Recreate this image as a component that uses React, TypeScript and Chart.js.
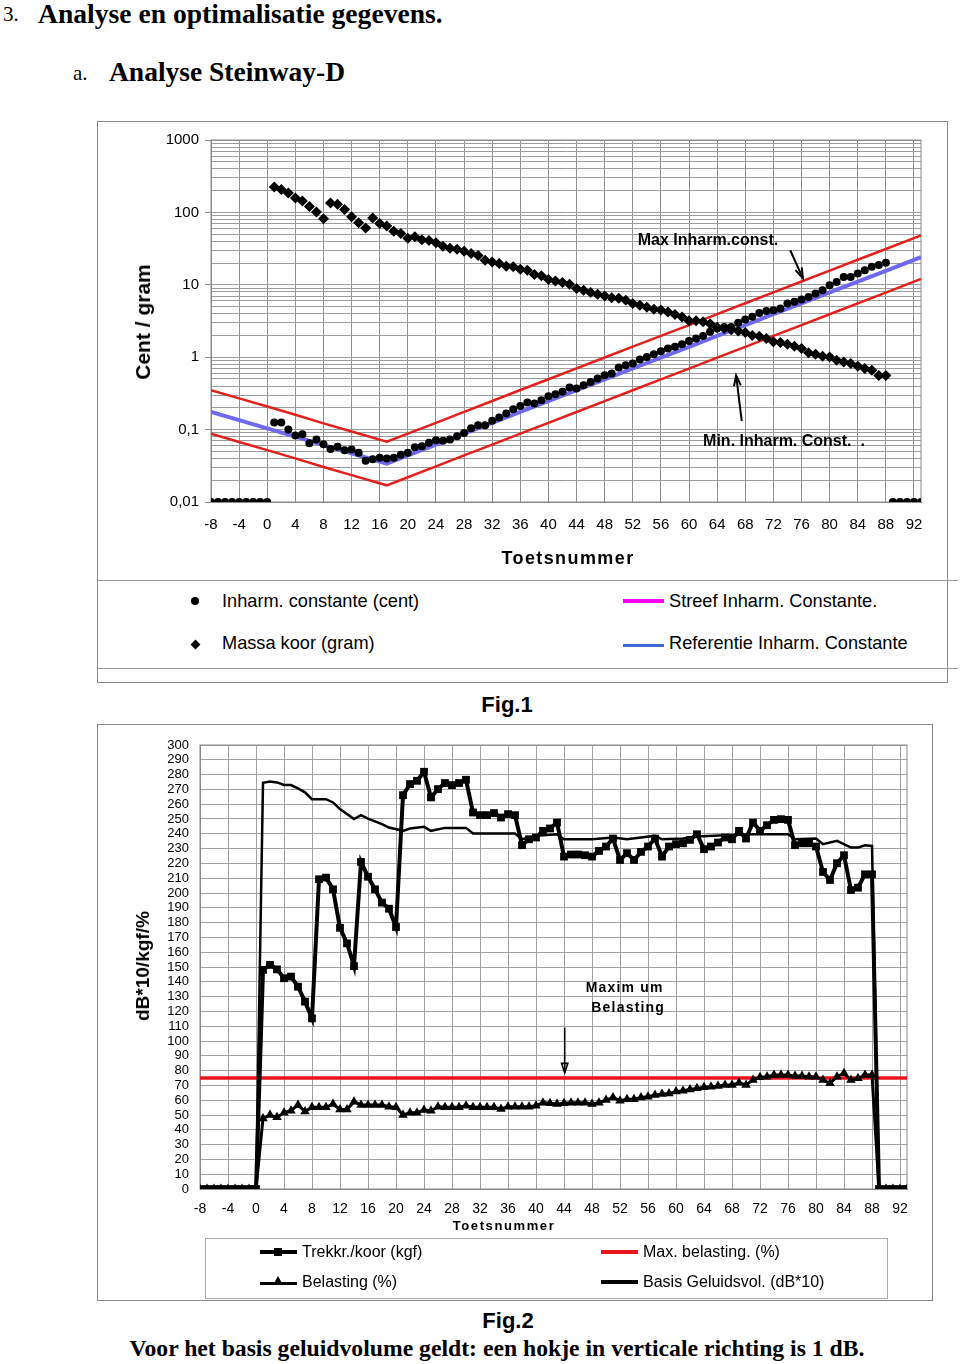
import React, { useEffect, useRef } from 'react';
import { Chart, registerables } from 'chart.js';

Chart.register(...registerables);

const SANS = '"Liberation Sans", Arial, Helvetica, sans-serif';
const SERIF = '"Liberation Serif", "Times New Roman", Times, serif';

// ---------------- Fig. 1 data ----------------
// key numbers -8 .. 93
const toetsnummers: number[] = Array.from({ length: 102 }, (_, i) => i - 8);
const xTickValues = [-8, -4, 0, 4, 8, 12, 16, 20, 24, 28, 32, 36, 40, 44, 48, 52, 56, 60, 64, 68, 72, 76, 80, 84, 88, 92];
const fig1YTickLabels = ['0,01', '0,1', '1', '10', '100', '1000'];

// Inharmonicity constant (cent) for keys -8 .. 93 (0,01 = empty keys)
const inharmConstante = [
  0.01, 0.01, 0.01, 0.01, 0.01, 0.01, 0.01, 0.01, 0.01,
  0.125, 0.125, 0.100, 0.083, 0.086, 0.065, 0.073, 0.063, 0.054, 0.058,
  0.052, 0.053, 0.048, 0.037, 0.039, 0.041, 0.040, 0.041, 0.045, 0.048,
  0.057, 0.059, 0.066, 0.071, 0.070, 0.073, 0.081, 0.090, 0.104, 0.115,
  0.115, 0.132, 0.147, 0.167, 0.191, 0.211, 0.237, 0.229, 0.255, 0.289,
  0.308, 0.332, 0.381, 0.370, 0.41, 0.456, 0.508, 0.564, 0.595, 0.721,
  0.775, 0.819, 0.929, 1.01, 1.10, 1.21, 1.32, 1.39, 1.51, 1.68,
  1.81, 1.97, 2.24, 2.49, 2.62, 2.62, 2.98, 3.32, 3.61, 4.09,
  4.36, 4.46, 4.71, 5.52, 5.81, 6.27, 6.81, 7.58, 8.42, 9.87,
  10.96, 12.85, 12.85, 14.3, 15.9, 17.7, 18.7, 20.1,
  0.01, 0.01, 0.01, 0.01, 0.01,
];

// String mass (gram) for keys 1 .. 88
const massaKoorStart = 1;
const massaKoor = [
  225, 207, 186, 158, 144, 121, 101, 82, 135, 130,
  110, 87, 72, 61, 84, 70, 65, 55, 51, 44,
  46, 42, 41, 38, 34, 32, 31, 29, 27, 25.4,
  21.9, 20.7, 19.7, 18.1, 17.7, 16.4, 15.9, 13.9, 13.3, 11.8,
  11.3, 10.8, 10.2, 8.9, 8.4, 7.8, 7.4, 7.0, 6.6, 6.5,
  6.1, 5.5, 5.2, 4.9, 4.6, 4.5, 4.2, 3.9, 3.6, 3.2,
  3.2, 3.1, 2.9, 2.6, 2.5, 2.4, 2.3, 2.2, 2.0, 1.95,
  1.81, 1.63, 1.60, 1.51, 1.42, 1.32, 1.15, 1.10, 1.03, 1.01,
  0.91, 0.86, 0.82, 0.75, 0.70, 0.66, 0.56, 0.56,
];

// Reference / limit lines (read at key numbers)
const refKeys = [-8, -4, 0, 4, 8, 12, 17, 20, 24, 28, 32, 36, 40, 44, 48, 52, 56, 60, 64, 68, 72, 76, 80, 84, 88, 92, 93];
const referentieInharm = [0.175, 0.135, 0.104, 0.080, 0.061, 0.047, 0.034, 0.044, 0.062, 0.088, 0.124, 0.176, 0.248, 0.350, 0.495, 0.699, 0.987, 1.39, 1.97, 2.78, 3.93, 5.55, 7.84, 11.1, 15.6, 22.1, 24.1];
const maxInharm = [0.35, 0.27, 0.208, 0.16, 0.122, 0.094, 0.068, 0.088, 0.124, 0.176, 0.248, 0.352, 0.496, 0.70, 0.99, 1.40, 1.97, 2.78, 3.94, 5.56, 7.86, 11.1, 15.7, 22.2, 31.2, 44.2, 48.2];
const minInharm = [0.0875, 0.0675, 0.052, 0.040, 0.0305, 0.0235, 0.017, 0.022, 0.031, 0.044, 0.062, 0.088, 0.124, 0.175, 0.248, 0.35, 0.494, 0.695, 0.985, 1.39, 1.97, 2.78, 3.92, 5.55, 7.8, 11.05, 12.05];

// ---------------- Fig. 2 data ----------------
// Trekkracht per koor (kgf) for keys -8 .. 93
const trekkracht = [
  0, 0, 0, 0, 0, 0, 0, 0, 0,
  148, 151.4, 148.4, 142.4, 143.5, 136.7, 126.6, 115.3, 209.3, 210.4,
  202.5, 176.5, 166, 150.6, 221, 211, 202.5, 193.5, 189.4, 177,
  266.1, 273.6, 275.8, 281.9, 264.6, 270.2, 274.3, 272.9, 274.3, 276.5,
  254.4, 252.6, 252.6, 254, 251, 253.3, 252.6, 232.3, 236.3, 237.5,
  242, 243.6, 247.6, 224.6, 226, 226, 225.5, 224.6, 228.4, 231.4,
  236.8, 222.3, 226.9, 222.3, 227.8, 231.4, 236.8, 224.6, 231.4, 233,
  233.6, 235.9, 239.7, 229.6, 231.4, 234.1, 237.5, 236.3, 242, 236.8,
  247.6, 242, 245.8, 249.4, 249.9, 249.4, 232.3, 233.6, 233.6, 231.4,
  214.2, 208.8, 220.1, 225.5, 202, 203.6, 212.6, 212.6,
  0, 0, 0, 0, 0,
];
// Belasting (%) for keys -8 .. 93
const belasting = [
  0, 0, 0, 0, 0, 0, 0, 0, 0,
  47.7, 50, 48.4, 51.6, 52.9, 56.8, 52.3, 55.2, 55.2, 55.2,
  57.4, 53.8, 53.8, 59, 56.8, 56.8, 56.8, 56.8, 55.6, 55.2,
  50, 51.6, 51.6, 53.4, 52.9, 55.6, 55.2, 55.2, 55.2, 56.3,
  55.2, 55.2, 55.2, 55.2, 54.1, 55.6, 55.6, 55.6, 55.6, 56.3,
  58.3, 57.9, 57.4, 57.9, 58.3, 58.3, 58.3, 57.4, 58.3, 60.1,
  61.9, 59.7, 60.6, 60.6, 61.9, 62.4, 63.5, 64.2, 64.6, 65.8,
  66.4, 67.3, 68, 68.7, 69.1, 69.6, 70.3, 70.3, 71.8, 70.3,
  73.6, 75.5, 75.9, 77, 77, 77, 76.4, 76.4, 75.9, 75.9,
  73.6, 71.4, 75.9, 78.2, 73.6, 74.8, 77, 77,
  0, 0, 0, 0, 0,
];
// Basis geluidsvolume (dB*10), read at breakpoints
const basisKeys = [-8, 0, 1, 2, 3, 4, 5, 6, 7, 8, 10, 11, 12, 14, 15, 16, 18, 19, 21, 22, 24, 25, 27, 30, 31, 37, 38, 40, 43, 44, 48, 51, 53, 55, 57, 58, 61, 63, 67, 71, 76, 77, 80, 81, 83, 85, 86, 87, 88, 89, 93];
const basisGeluid = [0, 0, 274.5, 275.4, 274.7, 273, 272.9, 270.7, 268, 263.4, 263.4, 261.2, 256.7, 250, 252.6, 250.3, 246.5, 244.2, 242, 243.6, 244.7, 242, 244, 244, 240.2, 240.2, 236.3, 238.6, 239.7, 236.3, 236.3, 237.5, 236.3, 237.5, 238.6, 236.3, 236.8, 238.2, 239, 239.7, 239.7, 236.3, 236.8, 233, 235.2, 230.7, 230.7, 232.3, 231.8, 0, 0];
const maxBelasting = 75;
const maxBelastingKeys = [-8, 93];

// ---------------- helpers ----------------
const pts = (xs: number[], ys: number[]) => xs.map((x, i) => ({ x, y: ys[i] }));

function arrow(ctx: any, x1: number, y1: number, x2: number, y2: number, head: number, closed: boolean) {
  const ang = Math.atan2(y2 - y1, x2 - x1);
  ctx.beginPath();
  ctx.moveTo(x1, y1);
  ctx.lineTo(x2, y2);
  ctx.stroke();
  const a1 = ang + Math.PI - 0.32;
  const a2 = ang + Math.PI + 0.32;
  ctx.beginPath();
  ctx.moveTo(x2 + head * Math.cos(a1), y2 + head * Math.sin(a1));
  ctx.lineTo(x2, y2);
  ctx.lineTo(x2 + head * Math.cos(a2), y2 + head * Math.sin(a2));
  if (closed) ctx.closePath();
  ctx.stroke();
}

const framePlugin = {
  id: 'frame',
  beforeDatasetsDraw(chart: any) {
    const { ctx, chartArea: a } = chart;
    ctx.save();
    ctx.strokeStyle = '#8a8a8a';
    ctx.lineWidth = 1;
    ctx.strokeRect(a.left, a.top, a.right - a.left, a.bottom - a.top);
    ctx.restore();
  },
};

const fig1Notes = {
  id: 'fig1Notes',
  afterDatasetsDraw(chart: any) {
    const { ctx } = chart;
    const x = chart.scales.x;
    const y = chart.scales.y;
    ctx.save();
    ctx.fillStyle = '#000';
    ctx.strokeStyle = '#000';
    ctx.lineWidth = 2;
    ctx.font = `bold 16px ${SANS}`;
    ctx.textBaseline = 'middle';
    ctx.textAlign = 'left';
    ctx.fillText('Max Inharm.const.', x.getPixelForValue(52.7), y.getPixelForValue(41));
    ctx.fillText('Min. Inharm. Const.  .', x.getPixelForValue(62), y.getPixelForValue(0.069));
    arrow(ctx, x.getPixelForValue(74.4), y.getPixelForValue(30), x.getPixelForValue(76.2), y.getPixelForValue(12.3), 11, false);
    arrow(ctx, x.getPixelForValue(67.5), y.getPixelForValue(0.131), x.getPixelForValue(66.7), y.getPixelForValue(0.56), 11, false);
    ctx.restore();
  },
};

const fig2Notes = {
  id: 'fig2Notes',
  afterDatasetsDraw(chart: any) {
    const { ctx } = chart;
    const x = chart.scales.x;
    const y = chart.scales.y;
    ctx.save();
    ctx.fillStyle = '#000';
    ctx.strokeStyle = '#000';
    ctx.font = `bold 14px ${SANS}`;
    try { (ctx as any).letterSpacing = '1.2px'; } catch (e) {}
    ctx.textBaseline = 'middle';
    ctx.textAlign = 'left';
    ctx.fillText('Maxim um', x.getPixelForValue(47.1), y.getPixelForValue(136));
    ctx.fillText('Belasting', x.getPixelForValue(47.9), y.getPixelForValue(122.5));
    try { (ctx as any).letterSpacing = '0px'; } catch (e) {}
    ctx.lineWidth = 1.6;
    arrow(ctx, x.getPixelForValue(44.1), y.getPixelForValue(109), x.getPixelForValue(44.1), y.getPixelForValue(78.5), 10, true);
    ctx.restore();
  },
};

function fig1Config(): any {
  const isDecade = (v: number) => {
    const l = Math.log10(v);
    return Math.abs(l - Math.round(l)) < 1e-6;
  };
  return {
    type: 'scatter',
    data: {
      datasets: [
        {
          label: 'Inharm. constante (cent)',
          data: pts(toetsnummers, inharmConstante),
          pointStyle: 'circle', pointRadius: 4, borderWidth: 0,
          backgroundColor: '#000', borderColor: '#000', showLine: false,
        },
        {
          label: 'Massa koor (gram)',
          data: massaKoor.map((v, i) => ({ x: massaKoorStart + i, y: v })),
          pointStyle: 'rectRot', pointRadius: 5.5, borderWidth: 0,
          backgroundColor: '#000', borderColor: '#000', showLine: false,
        },
        {
          label: 'Referentie Inharm. Constante',
          data: pts(refKeys, referentieInharm),
          showLine: true, borderColor: '#7068ee', borderWidth: 4, pointRadius: 0,
        },
        {
          label: 'Max Inharm.',
          data: pts(refKeys, maxInharm),
          showLine: true, borderColor: '#e3211c', borderWidth: 2.5, pointRadius: 0,
        },
        {
          label: 'Min Inharm.',
          data: pts(refKeys, minInharm),
          showLine: true, borderColor: '#e3211c', borderWidth: 2.5, pointRadius: 0,
        },
      ],
    },
    options: {
      animation: false,
      responsive: false,
      events: [],
      layout: { padding: { left: 0, top: 19, right: 28, bottom: 0 } },
      plugins: { legend: { display: false }, tooltip: { enabled: false } },
      scales: {
        x: {
          type: 'linear', min: -8, max: 93,
          afterBuildTicks: (s: any) => { s.ticks = xTickValues.map((v) => ({ value: v })); },
          afterFit: (s: any) => { s.height = 79; },
          ticks: { font: { family: SANS, size: 15 }, color: '#000', padding: 14, maxRotation: 0, minRotation: 0, autoSkip: false, callback: (v: any) => String(v) },
          grid: { color: '#939393', drawTicks: false },
          border: { color: '#8a8a8a' },
        },
        y: {
          type: 'logarithmic', min: 0.01, max: 1000,
          afterBuildTicks: (s: any) => {
            const t: any[] = [];
            for (let e = -2; e <= 2; e++) {
              for (let m = 1; m <= 9; m++) t.push({ value: Number((m * Math.pow(10, e)).toPrecision(3)) });
            }
            t.push({ value: 1000 });
            s.ticks = t;
          },
          afterFit: (s: any) => { s.width = 114; },
          ticks: {
            font: { family: SANS, size: 15 }, color: '#000', padding: 6, autoSkip: false,
            callback: (v: any) => {
              const l = Math.log10(v);
              const r = Math.round(l);
              return Math.abs(l - r) < 1e-6 ? fig1YTickLabels[r + 2] : '';
            },
          },
          grid: {
            color: '#9c9c9c', drawTicks: true, tickLength: 6,
            tickColor: (c: any) => (c.tick && isDecade(c.tick.value) ? '#8a8a8a' : 'rgba(0,0,0,0)'),
          },
          border: { color: '#8a8a8a' },
        },
      },
    },
    plugins: [framePlugin, fig1Notes],
  };
}

function fig2Config(): any {
  return {
    type: 'scatter',
    data: {
      datasets: [
        {
          label: 'Trekkr./koor (kgf)',
          data: pts(toetsnummers, trekkracht),
          showLine: true, borderColor: '#000', borderWidth: 4,
          pointStyle: 'rect', pointRadius: 5.5, pointBorderWidth: 0,
          backgroundColor: '#000',
        },
        {
          label: 'Belasting (%)',
          data: pts(toetsnummers, belasting),
          showLine: true, borderColor: '#000', borderWidth: 3,
          pointStyle: 'triangle', pointRadius: 5.5, pointBorderWidth: 0,
          backgroundColor: '#000',
        },
        {
          label: 'Basis Geluidsvol. (dB*10)',
          data: pts(basisKeys, basisGeluid),
          showLine: true, borderColor: '#000', borderWidth: 2.5, pointRadius: 0,
        },
        {
          label: 'Max. belasting. (%)',
          data: maxBelastingKeys.map((x) => ({ x, y: maxBelasting })),
          showLine: true, borderColor: '#e8131b', borderWidth: 3.5, pointRadius: 0,
        },
      ],
    },
    options: {
      animation: false,
      responsive: false,
      events: [],
      layout: { padding: { left: 0, top: 21, right: 26, bottom: 0 } },
      plugins: { legend: { display: false }, tooltip: { enabled: false } },
      scales: {
        x: {
          type: 'linear', min: -8, max: 93,
          afterBuildTicks: (s: any) => { s.ticks = xTickValues.map((v) => ({ value: v })); },
          afterFit: (s: any) => { s.height = 45; },
          ticks: { font: { family: SANS, size: 14 }, color: '#000', padding: 12, maxRotation: 0, minRotation: 0, autoSkip: false, callback: (v: any) => String(v) },
          grid: { color: '#a0a0a0', drawTicks: false },
          border: { color: '#8a8a8a' },
        },
        y: {
          type: 'linear', min: 0, max: 300,
          afterFit: (s: any) => { s.width = 103; },
          ticks: { stepSize: 10, font: { family: SANS, size: 13 }, color: '#000', padding: 11, autoSkip: false },
          grid: { color: '#a0a0a0', drawTicks: false },
          border: { color: '#8a8a8a' },
        },
      },
    },
    plugins: [framePlugin, fig2Notes],
  };
}

// ---------------- layout helpers ----------------
function T(props: any) {
  const { x, y, anchor = 'left', rotate = false, style, children } = props;
  const tx = anchor === 'center' ? '-50%' : '0';
  return (
    <div
      style={{
        position: 'absolute', left: x, top: y, whiteSpace: 'nowrap', lineHeight: 1,
        transform: rotate ? 'translate(-50%,-50%) rotate(-90deg)' : `translate(${tx},-50%)`,
        color: '#000',
        ...style,
      }}
    >
      {children}
    </div>
  );
}

function HLine(props: any) {
  const { x1, x2, y, w = 1, color = '#999' } = props;
  return <div style={{ position: 'absolute', left: x1, top: y - w / 2, width: x2 - x1, height: w, background: color }} />;
}

export default function App() {
  const c1 = useRef<HTMLCanvasElement>(null);
  const c2 = useRef<HTMLCanvasElement>(null);

  useEffect(() => {
    const ch1 = new Chart(c1.current as any, fig1Config());
    const ch2 = new Chart(c2.current as any, fig2Config());
    return () => {
      ch1.destroy();
      ch2.destroy();
    };
  }, []);

  const legendFont = { font: `18.2px ${SANS}` };
  const legend2Font = { font: `16px ${SANS}` };

  return (
    <div style={{ position: 'absolute', left: 0, top: 0, width: 960, height: 1364, background: '#fff', overflow: 'hidden' }}>
      {/* headings */}
      <T x={3} y={14} style={{ font: `21px ${SERIF}` }}>3.</T>
      <T x={38} y={14} style={{ font: `bold 27.6px ${SERIF}` }}>Analyse en optimalisatie gegevens.</T>
      <T x={73} y={73} style={{ font: `21px ${SERIF}` }}>a.</T>
      <T x={109} y={72} style={{ font: `bold 27.5px ${SERIF}` }}>Analyse Steinway-D</T>

      {/* Fig 1 frame */}
      <div style={{ position: 'absolute', left: 97, top: 121, width: 851, height: 562, border: '1px solid #8a8a8a', boxSizing: 'border-box' }} />
      <HLine x1={97} x2={958} y={580} />
      <HLine x1={97} x2={958} y={668} />
      <canvas ref={c1} width={852} height={460} style={{ position: 'absolute', left: 97, top: 121, width: 852, height: 460 }} />
      <T x={143} y={322} rotate style={{ font: `bold 21px ${SANS}` }}>Cent / gram</T>
      <T x={568} y={558} anchor="center" style={{ font: `bold 18px ${SANS}`, letterSpacing: '1.4px' }}>Toetsnummer</T>

      {/* Fig 1 legend */}
      <div style={{ position: 'absolute', left: 191, top: 597, width: 8, height: 8, borderRadius: 4, background: '#000' }} />
      <T x={222} y={601} style={legendFont}>Inharm. constante (cent)</T>
      <div style={{ position: 'absolute', left: 192, top: 641, width: 7, height: 7, background: '#000', transform: 'rotate(45deg)' }} />
      <T x={222} y={643} style={legendFont}>Massa koor (gram)</T>
      <HLine x1={623} x2={664} y={601} w={4} color="#ff00ff" />
      <T x={669} y={601} style={legendFont}>Streef Inharm. Constante.</T>
      <HLine x1={623} x2={664} y={645} w={3} color="#3e6cd6" />
      <T x={669} y={643} style={legendFont}>Referentie Inharm. Constante</T>

      <T x={507} y={705} anchor="center" style={{ font: `bold 22px ${SANS}` }}>Fig.1</T>

      {/* Fig 2 frame */}
      <div style={{ position: 'absolute', left: 97, top: 724, width: 836, height: 577, border: '1px solid #8a8a8a', boxSizing: 'border-box' }} />
      <canvas ref={c2} width={836} height={510} style={{ position: 'absolute', left: 97, top: 724, width: 836, height: 510 }} />
      <T x={143} y={966} rotate style={{ font: `bold 19px ${SANS}` }}>dB*10/kgf/%</T>
      <T x={504} y={1225} anchor="center" style={{ font: `bold 13px ${SANS}`, letterSpacing: '1.6px' }}>Toetsnummer</T>

      {/* Fig 2 legend */}
      <div style={{ position: 'absolute', left: 205, top: 1238, width: 683, height: 61, border: '1px solid #aaa', boxSizing: 'border-box' }} />
      <HLine x1={260} x2={297} y={1252} w={4} color="#000" />
      <div style={{ position: 'absolute', left: 274, top: 1248, width: 8, height: 8, background: '#000' }} />
      <T x={302} y={1252} style={legend2Font}>Trekkr./koor (kgf)</T>
      <HLine x1={260} x2={297} y={1283} w={3} color="#000" />
      <div style={{ position: 'absolute', left: 273, top: 1276, width: 0, height: 0, borderLeft: '5px solid transparent', borderRight: '5px solid transparent', borderBottom: '9px solid #000' }} />
      <T x={302} y={1282} style={legend2Font}>Belasting (%)</T>
      <HLine x1={601} x2={638} y={1252} w={4} color="#e8131b" />
      <T x={643} y={1252} style={legend2Font}>Max. belasting. (%)</T>
      <HLine x1={601} x2={638} y={1282} w={4} color="#000" />
      <T x={643} y={1282} style={legend2Font}>Basis Geluidsvol. (dB*10)</T>

      <T x={508} y={1321} anchor="center" style={{ font: `bold 22px ${SANS}` }}>Fig.2</T>
      <T x={497} y={1348} anchor="center" style={{ font: `bold 23.7px ${SERIF}` }}>Voor het basis geluidvolume geldt: een hokje in verticale richting is 1 dB.</T>
    </div>
  );
}
